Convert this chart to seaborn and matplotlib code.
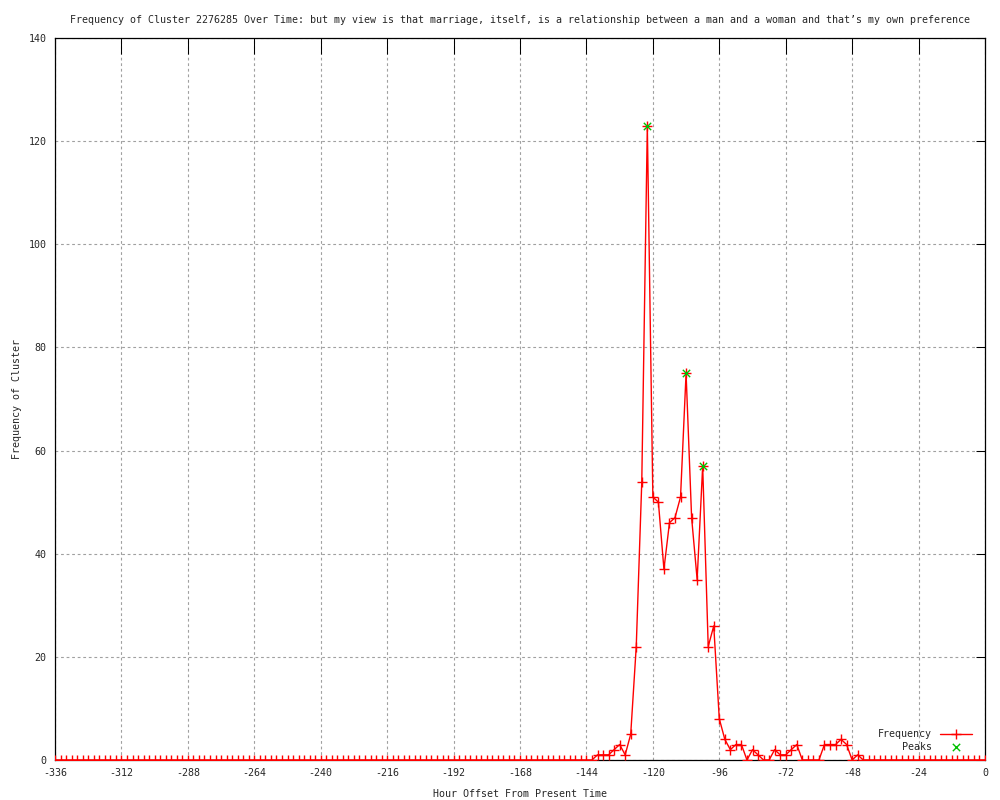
import numpy as np
import pandas as pd
import matplotlib
matplotlib.use("Agg")
import matplotlib.pyplot as plt
import seaborn as sns

# hours back from now, one sample every 2 hours
hours = list(range(-336, 1, 2))

# frequency per 2h bin (-336 .. 0)
frequency = (
    [0] * 98
    + [1, 1, 1, 2, 3, 1, 5, 22,
       54, 123, 51, 50, 37, 46, 47, 51,
       75, 47, 35, 57, 22, 26, 8, 4,
       2, 3, 3, 0, 2, 1, 0, 0,
       2, 1, 1, 2, 3, 0, 0, 0,
       0, 3, 3, 3, 4, 3, 0, 1]
    + [0] * 23
)

peak_hours = [-122, -108, -102]
peak_values = [123, 75, 57]

x_ticks = list(range(-336, 1, 24))
y_ticks = list(range(0, 141, 20))

title = ("Frequency of Cluster 2276285 Over Time: but my view is that marriage, "
         "itself, is a relationship between a man and a woman and that\u2019s my own preference")

df = pd.DataFrame({"hour": hours, "freq": frequency})
peaks = pd.DataFrame({"hour": peak_hours, "freq": peak_values})

sns.set_style("white")
plt.rcParams["font.family"] = ["DejaVu Sans Mono", "DejaVu Sans"]
plt.rcParams["axes.unicode_minus"] = False
fs = 7.2

fig = plt.figure(figsize=(10, 8), dpi=100)
ax = fig.add_axes([0.055, 0.05, 0.93, 0.9025])

sns.lineplot(data=df, x="hour", y="freq", ax=ax, color="red", linewidth=1,
             marker="+", markersize=7, markeredgewidth=1, markeredgecolor="red",
             label="Frequency", zorder=3)
sns.scatterplot(data=peaks, x="hour", y="freq", ax=ax, color="#00c000",
                marker="x", s=28, linewidth=1, label="Peaks", zorder=4)

ax.set_xlim(-336, 0)
ax.set_ylim(0, 140)
ax.set_xticks(x_ticks)
ax.set_yticks(y_ticks)
ax.tick_params(axis="both", labelsize=fs, direction="in", top=True, right=True,
               width=0.75, color="black", pad=6)
ax.tick_params(axis="x", length=11.5)
ax.tick_params(axis="y", length=6.5)
ax.grid(True, color="#a0a0a0", linestyle=(0, (2.5, 2.5)), linewidth=0.8)
for s in ax.spines.values():
    s.set_color("black")
    s.set_linewidth(0.9)

ax.set_title(title, fontsize=fs, pad=11)
ax.set_xlabel("Hour Offset From Present Time", fontsize=fs, labelpad=8)
ax.set_ylabel("Frequency of Cluster", fontsize=fs, labelpad=5)

leg = ax.legend(loc="lower right", frameon=False, markerfirst=False, fontsize=fs,
                handlelength=3.2, borderaxespad=0.4, labelspacing=0.3,
                bbox_to_anchor=(0.995, 0.0))

fig.savefig("out.png", dpi=100)
